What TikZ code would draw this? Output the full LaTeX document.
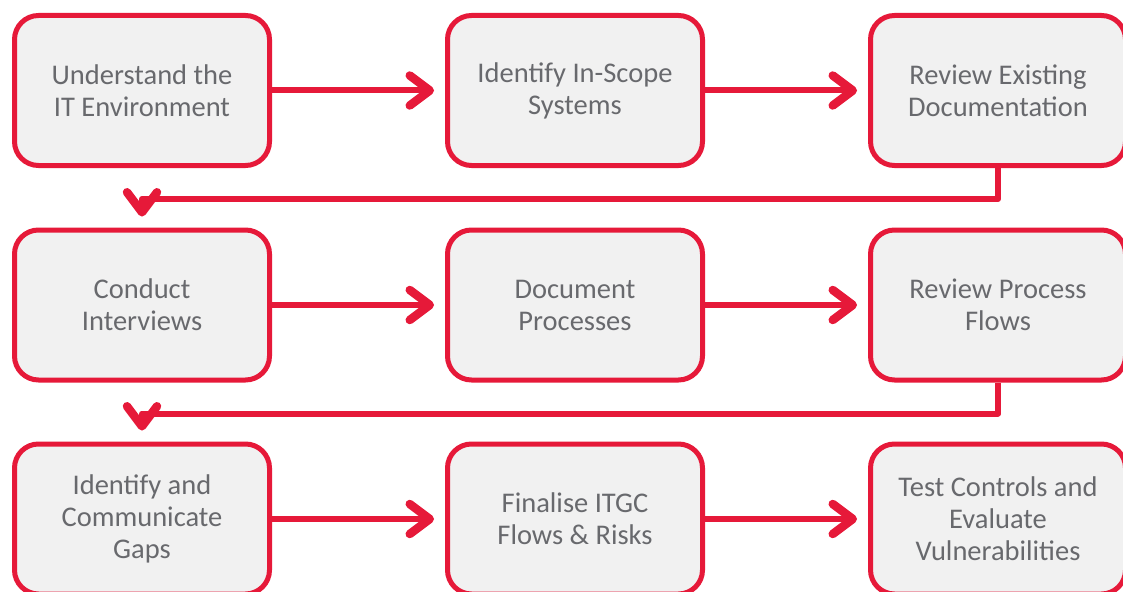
\documentclass[tikz,border=0pt]{standalone}
\usepackage{fontspec}
\setmainfont{Carlito}
\usetikzlibrary{arrows.meta}
\definecolor{flowred}{RGB}{230,25,57}
\definecolor{boxfill}{RGB}{241,241,241}
\definecolor{textgray}{RGB}{104,105,109}

\begin{document}
\begin{tikzpicture}[x=1pt,y=-1pt,
  stepbox/.style={draw=flowred, line width=5pt, fill=boxfill, rounded corners=24pt,
    minimum width=255pt, minimum height=150pt, align=center, text=textgray,
    font=\fontsize{28.5}{32}\selectfont, inner sep=0pt},
  flow/.style={draw=flowred, line width=6pt, line join=round,
    -{Straight Barb[round,length=20pt,width=30pt,line width=8.5pt]}, shorten >=11pt}
]
\useasboundingbox (0,0) rectangle (1123,591);

% row 1
\node[stepbox] (b1) at (142,90.5) {Understand the\\IT Environment};
\node[stepbox] (b2) at (575,90.5) {Identify In-Scope\\Systems};
\node[stepbox] (b3) at (998,90.5) {Review Existing\\Documentation};
% row 2
\node[stepbox] (b4) at (142,305) {Conduct\\Interviews};
\node[stepbox] (b5) at (575,305) {Document\\Processes};
\node[stepbox] (b6) at (998,305) {Review Process\\Flows};
% row 3
\node[stepbox] (b7) at (142,519) {Identify and\\Communicate\\Gaps};
\node[stepbox] (b8) at (575,519) {Finalise ITGC\\Flows \& Risks};
\node[stepbox] (b9) at (998,519) {Test Controls and\\Evaluate\\Vulnerabilities};

% connectors along each row
\draw[flow] (b1) -- (b2);
\draw[flow] (b2) -- (b3);
\draw[flow] (b4) -- (b5);
\draw[flow] (b5) -- (b6);
\draw[flow] (b7) -- (b8);
\draw[flow] (b8) -- (b9);

% return connectors to the start of the next row
\draw[flow] (b3.south) -- ++(0,31) -| (b4.north);
\draw[flow] (b6.south) -- ++(0,31) -| (b7.north);
\end{tikzpicture}
\end{document}
